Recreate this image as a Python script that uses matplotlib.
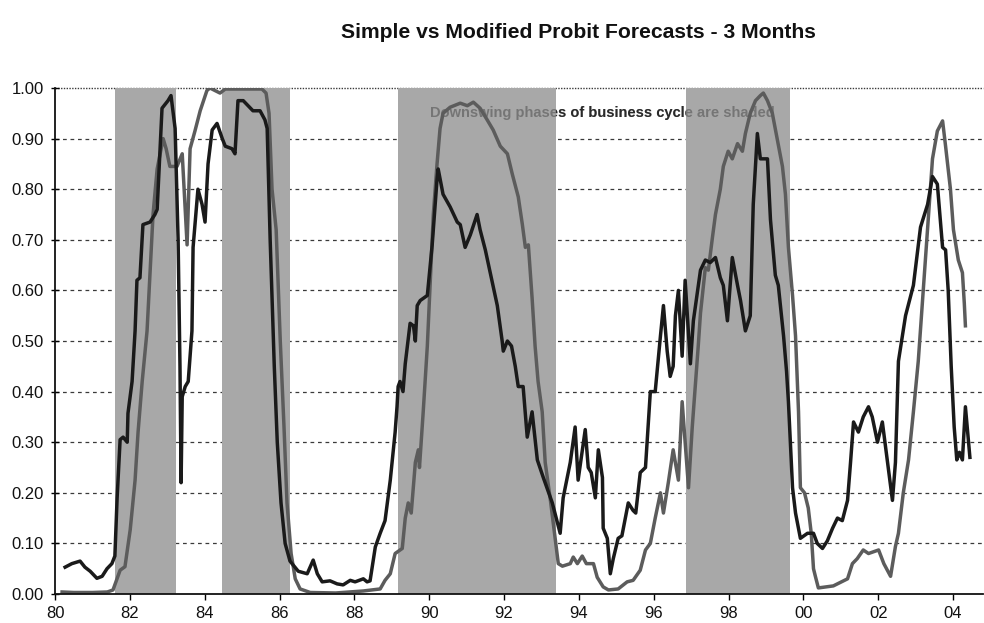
import matplotlib
matplotlib.use("Agg")
import matplotlib.pyplot as plt

plt.rcParams['font.family'] = ['Liberation Sans', 'DejaVu Sans']

title = "Simple vs Modified Probit Forecasts - 3 Months"
note = "Downswing phases of business cycle are shaded"

# downswing phases (start, end) in decimal years
downswings = [(1981.60, 1983.24), (1984.47, 1986.28), (1989.17, 1993.40), (1996.85, 1999.65)]

# black series (simple probit)
simple_t = [1980.27, 1980.45, 1980.67, 1980.80, 1980.94, 1981.12, 1981.26, 1981.39, 1981.52, 1981.60,
            1981.66, 1981.74, 1981.82, 1981.93, 1981.95, 1982.06, 1982.14, 1982.19, 1982.27, 1982.35,
            1982.54, 1982.67, 1982.73, 1982.86, 1983.02, 1983.10, 1983.21, 1983.29, 1983.34, 1983.37,
            1983.40, 1983.48, 1983.56, 1983.66, 1983.69, 1983.82, 1983.93, 1984.01, 1984.09, 1984.20,
            1984.33, 1984.47, 1984.55, 1984.73, 1984.81, 1984.89, 1985.03, 1985.16, 1985.29, 1985.48,
            1985.61, 1985.67, 1985.75, 1985.86, 1985.94, 1986.04, 1986.15, 1986.28, 1986.50, 1986.74,
            1986.90, 1987.01, 1987.14, 1987.35, 1987.54, 1987.70, 1987.89, 1988.02, 1988.24, 1988.34,
            1988.42, 1988.56, 1988.69, 1988.82, 1988.96, 1989.09, 1989.14, 1989.17, 1989.22, 1989.30,
            1989.36, 1989.49, 1989.58, 1989.63, 1989.68, 1989.76, 1989.95, 1990.08, 1990.21, 1990.24,
            1990.37, 1990.56, 1990.75, 1990.83, 1990.96, 1991.10, 1991.28, 1991.36, 1991.50, 1991.63,
            1991.82, 1991.95, 1991.98, 1992.09, 1992.20, 1992.30, 1992.38, 1992.51, 1992.62, 1992.75,
            1992.89, 1993.05, 1993.29, 1993.50, 1993.58, 1993.77, 1993.90, 1993.98, 1994.17, 1994.25,
            1994.33, 1994.44, 1994.52, 1994.63, 1994.65, 1994.76, 1994.84, 1994.92, 1995.05, 1995.15,
            1995.32, 1995.45, 1995.52, 1995.64, 1995.78, 1995.91, 1996.04, 1996.18, 1996.26, 1996.36,
            1996.44, 1996.52, 1996.58, 1996.66, 1996.76, 1996.84, 1996.98, 1997.06, 1997.25, 1997.38,
            1997.51, 1997.65, 1997.78, 1997.86, 1997.97, 1998.10, 1998.24, 1998.32, 1998.45, 1998.58,
            1998.66, 1998.77, 1998.85, 1999.04, 1999.12, 1999.25, 1999.33, 1999.47, 1999.55, 1999.60,
            1999.71, 1999.79, 1999.92, 2000.11, 2000.27, 2000.37, 2000.51, 2000.64, 2000.78, 2000.91,
            2001.04, 2001.18, 2001.26, 2001.34, 2001.47, 2001.60, 2001.74, 2001.84, 2001.98, 2002.11,
            2002.25, 2002.38, 2002.46, 2002.54, 2002.73, 2002.94, 2003.13, 2003.32, 2003.45, 2003.58,
            2003.72, 2003.80, 2003.87, 2003.95, 2004.03, 2004.10, 2004.17, 2004.25, 2004.33, 2004.45]
simple_v = [0.053, 0.060, 0.065, 0.053, 0.045, 0.031, 0.035, 0.050, 0.060, 0.075,
            0.190, 0.305, 0.310, 0.300, 0.357, 0.420, 0.520, 0.620, 0.625, 0.730,
            0.735, 0.750, 0.760, 0.960, 0.975, 0.985, 0.920, 0.700, 0.450, 0.220,
            0.390, 0.410, 0.420, 0.520, 0.685, 0.800, 0.770, 0.735, 0.850, 0.917,
            0.930, 0.900, 0.885, 0.880, 0.870, 0.975, 0.975, 0.965, 0.955, 0.955,
            0.937, 0.920, 0.700, 0.450, 0.300, 0.180, 0.100, 0.065, 0.045, 0.040,
            0.067, 0.040, 0.024, 0.026, 0.020, 0.018, 0.027, 0.024, 0.030, 0.024,
            0.026, 0.093, 0.120, 0.145, 0.225, 0.320, 0.370, 0.410, 0.420, 0.400,
            0.455, 0.535, 0.530, 0.500, 0.570, 0.580, 0.590, 0.690, 0.820, 0.840,
            0.790, 0.765, 0.735, 0.730, 0.685, 0.710, 0.750, 0.720, 0.680, 0.635,
            0.570, 0.500, 0.480, 0.500, 0.490, 0.450, 0.410, 0.410, 0.310, 0.360,
            0.265, 0.230, 0.180, 0.120, 0.190, 0.260, 0.330, 0.225, 0.325, 0.250,
            0.240, 0.190, 0.285, 0.230, 0.130, 0.110, 0.040, 0.070, 0.110, 0.115,
            0.180, 0.165, 0.160, 0.240, 0.250, 0.400, 0.400, 0.510, 0.570, 0.480,
            0.430, 0.450, 0.550, 0.600, 0.470, 0.620, 0.455, 0.540, 0.640, 0.660,
            0.655, 0.665, 0.625, 0.610, 0.540, 0.665, 0.610, 0.580, 0.520, 0.550,
            0.770, 0.910, 0.860, 0.860, 0.740, 0.630, 0.610, 0.510, 0.440, 0.380,
            0.210, 0.160, 0.110, 0.120, 0.120, 0.100, 0.090, 0.105, 0.130, 0.150,
            0.145, 0.185, 0.260, 0.340, 0.320, 0.350, 0.370, 0.350, 0.300, 0.340,
            0.260, 0.185, 0.260, 0.460, 0.550, 0.610, 0.725, 0.770, 0.825, 0.810,
            0.685, 0.680, 0.600, 0.450, 0.330, 0.265, 0.280, 0.265, 0.370, 0.270]

# grey series (modified probit)
modified_t = [1980.19, 1980.50, 1981.00, 1981.40, 1981.55, 1981.74, 1981.87, 1982.01, 1982.14, 1982.22,
              1982.33, 1982.46, 1982.62, 1982.73, 1982.89, 1982.97, 1983.07, 1983.26, 1983.40, 1983.45,
              1983.53, 1983.61, 1983.74, 1983.88, 1984.06, 1984.14, 1984.41, 1984.55, 1985.00, 1985.53,
              1985.64, 1985.72, 1985.80, 1985.91, 1986.02, 1986.12, 1986.20, 1986.31, 1986.42, 1986.55,
              1986.82, 1987.50, 1988.24, 1988.69, 1988.82, 1988.96, 1989.09, 1989.22, 1989.28, 1989.36,
              1989.44, 1989.52, 1989.63, 1989.71, 1989.74, 1989.84, 1989.95, 1990.03, 1990.11, 1990.21,
              1990.29, 1990.37, 1990.56, 1990.83, 1991.02, 1991.18, 1991.36, 1991.55, 1991.71, 1991.90,
              1992.09, 1992.22, 1992.38, 1992.49, 1992.57, 1992.65, 1992.75, 1992.83, 1992.91, 1993.02,
              1993.10, 1993.24, 1993.37, 1993.45, 1993.56, 1993.77, 1993.85, 1993.96, 1994.09, 1994.20,
              1994.39, 1994.49, 1994.65, 1994.79, 1995.05, 1995.29, 1995.45, 1995.64, 1995.78, 1995.91,
              1996.04, 1996.18, 1996.26, 1996.39, 1996.52, 1996.66, 1996.76, 1996.84, 1996.93, 1997.03,
              1997.19, 1997.25, 1997.38, 1997.46, 1997.57, 1997.65, 1997.78, 1997.86, 1997.99, 1998.10,
              1998.24, 1998.37, 1998.45, 1998.58, 1998.72, 1998.85, 1998.93, 1999.04, 1999.17, 1999.30,
              1999.44, 1999.52, 1999.60, 1999.71, 1999.79, 1999.87, 1999.92, 2000.03, 2000.13, 2000.21,
              2000.27, 2000.32, 2000.40, 2000.80, 2001.18, 2001.31, 2001.44, 2001.60, 2001.74, 2002.01,
              2002.15, 2002.33, 2002.46, 2002.54, 2002.67, 2002.81, 2002.94, 2003.07, 2003.32, 2003.45,
              2003.58, 2003.72, 2003.80, 2003.93, 2004.01, 2004.14, 2004.25, 2004.30, 2004.33]
modified_v = [0.004, 0.003, 0.003, 0.004, 0.008, 0.047, 0.054, 0.127, 0.225, 0.320,
              0.420, 0.520, 0.750, 0.840, 0.900, 0.880, 0.845, 0.845, 0.870, 0.800,
              0.690, 0.880, 0.915, 0.955, 0.995, 1.000, 0.990, 0.998, 0.998, 0.998,
              0.990, 0.950, 0.800, 0.720, 0.500, 0.330, 0.180, 0.080, 0.030, 0.010,
              0.003, 0.002, 0.006, 0.010, 0.027, 0.040, 0.080, 0.087, 0.090, 0.150,
              0.180, 0.160, 0.260, 0.285, 0.250, 0.360, 0.490, 0.620, 0.750, 0.850,
              0.920, 0.950, 0.962, 0.970, 0.965, 0.972, 0.960, 0.937, 0.917, 0.885,
              0.870, 0.830, 0.785, 0.730, 0.685, 0.690, 0.585, 0.490, 0.420, 0.360,
              0.260, 0.185, 0.107, 0.060, 0.055, 0.060, 0.073, 0.060, 0.075, 0.060,
              0.060, 0.033, 0.014, 0.008, 0.010, 0.024, 0.027, 0.047, 0.087, 0.100,
              0.150, 0.200, 0.160, 0.220, 0.285, 0.225, 0.380, 0.300, 0.210, 0.330,
              0.490, 0.555, 0.645, 0.640, 0.705, 0.750, 0.800, 0.845, 0.875, 0.860,
              0.890, 0.875, 0.910, 0.950, 0.975, 0.985, 0.990, 0.975, 0.950, 0.900,
              0.845, 0.790, 0.685, 0.590, 0.510, 0.360, 0.210, 0.200, 0.170, 0.120,
              0.050, 0.035, 0.012, 0.016, 0.030, 0.060, 0.070, 0.087, 0.080, 0.087,
              0.060, 0.035, 0.094, 0.120, 0.200, 0.265, 0.360, 0.460, 0.725, 0.860,
              0.915, 0.935, 0.885, 0.800, 0.720, 0.660, 0.635, 0.575, 0.530]

ytick_vals = [0.0, 0.1, 0.2, 0.3, 0.4, 0.5, 0.6, 0.7, 0.8, 0.9, 1.0]
xtick_years = [1980, 1982, 1984, 1986, 1988, 1990, 1992, 1994, 1996, 1998, 2000, 2002, 2004]
xtick_labels = ["80", "82", "84", "86", "88", "90", "92", "94", "96", "98", "00", "02", "04"]

W, H = 984, 623
fig = plt.figure(figsize=(W / 100, H / 100), dpi=100)
fig.patch.set_facecolor("white")
ax = fig.add_axes([55 / W, 1 - 594 / H, (983 - 55) / W, (594 - 88) / H])
ax.set_facecolor("white")

ax.set_xlim(1980, 2004.8)
ax.set_ylim(0, 1.0)

# gridlines
for v in ytick_vals[1:-1]:
    ax.axhline(v, color="#3a3a3a", lw=0.9, ls=(0, (3, 3)), zorder=1)
ax.axhline(1.0, color="#3a3a3a", lw=1.0, ls=(0, (1, 1)), zorder=1, clip_on=False)

# annotation (below shading, dark) and overlay (above shading, faint)
ax.text(1994.63, 0.95, note, ha="center", va="center", fontsize=10.5, fontweight="bold",
        color="#2a2a2a", zorder=1.5)
ax.text(1994.63, 0.95, note, ha="center", va="center", fontsize=10.5, fontweight="bold",
        color="#2a2a2a", alpha=0.4, zorder=2.5)

# shaded downswings
for s, e in downswings:
    ax.axvspan(s, e, ymin=0, ymax=1, color="#a8a8a8", lw=0, zorder=2)

ax.plot(modified_t, modified_v, color="#5c5c5c", lw=2.5, zorder=3, solid_joinstyle="round")
ax.plot(simple_t, simple_v, color="#1a1a1a", lw=2.5, zorder=4, solid_joinstyle="round")

ax.set_yticks(ytick_vals)
ax.set_yticklabels([f"{v:.2f}" for v in ytick_vals], fontsize=12, color="#111111")
ax.set_xticks(xtick_years)
ax.set_xticklabels(xtick_labels, fontsize=12, color="#111111")
ax.tick_params(axis="y", direction="inout", length=6, width=1, pad=5)
ax.tick_params(axis="x", direction="out", length=4, width=1, pad=5)

for sp in ["top", "right"]:
    ax.spines[sp].set_visible(False)
for sp in ["left", "bottom"]:
    ax.spines[sp].set_color("#111111")
    ax.spines[sp].set_linewidth(1.3)
    ax.spines[sp].set_zorder(5)

fig.text(578 / W, 1 - 33 / H, title, ha="center", va="center", fontsize=15.2,
         fontweight="bold", color="#111111")

fig.savefig("out.png", dpi=100)
